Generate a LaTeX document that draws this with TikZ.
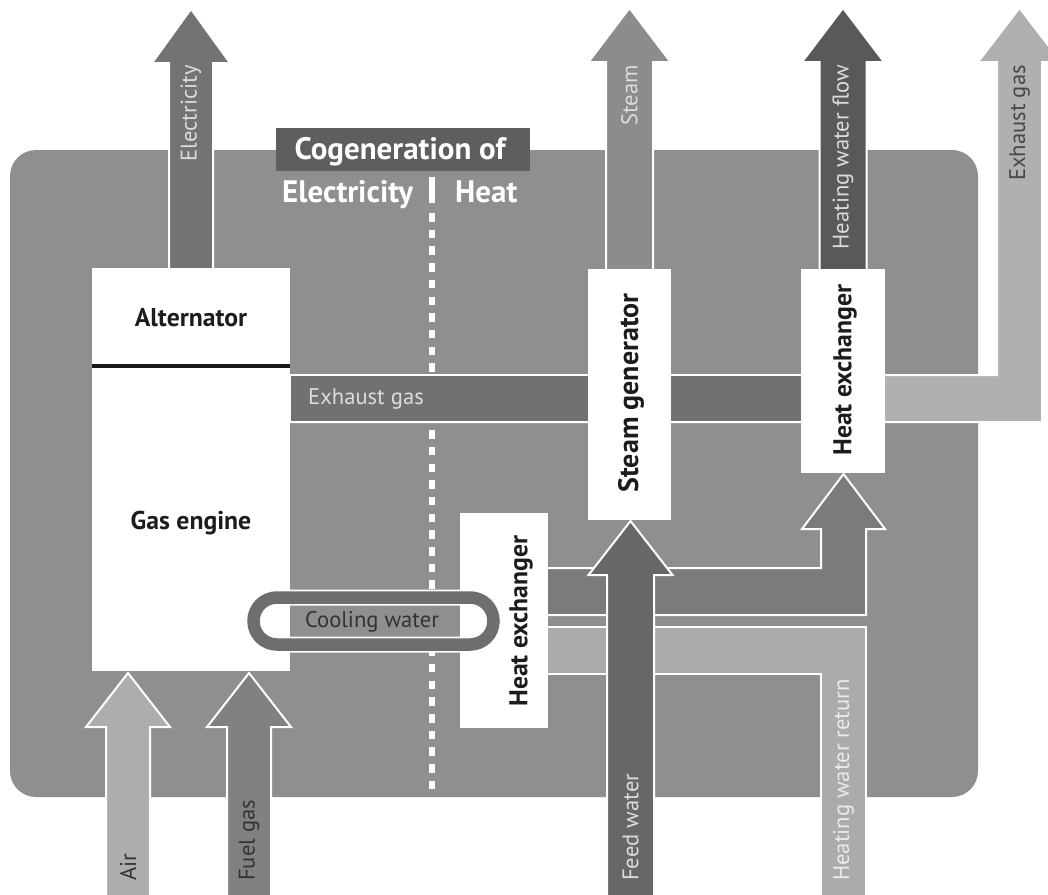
\documentclass[tikz,border=0pt]{standalone}
\usepackage{fontspec}
\setmainfont{PT Sans}
\definecolor{panel}{HTML}{8F8F8F}
\definecolor{elec}{HTML}{737373}
\definecolor{titlebg}{HTML}{5E5E5E}
\definecolor{steamc}{HTML}{8C8C8C}
\definecolor{hwflow}{HTML}{595959}
\definecolor{exlight}{HTML}{B0B0B0}
\definecolor{exdark}{HTML}{717171}
\definecolor{cool}{HTML}{6E6E6E}
\definecolor{hwflowlow}{HTML}{7B7B7B}
\definecolor{hwret}{HTML}{ABABAB}
\definecolor{feed}{HTML}{676767}
\definecolor{airc}{HTML}{ADADAD}
\definecolor{fuel}{HTML}{818181}
\definecolor{lbl}{HTML}{DCDCDC}
\definecolor{dk}{HTML}{333333}
\definecolor{boxtext}{HTML}{1C1C1C}
\tikzset{
  flow/.style={draw=white, line width=2pt},
  whitebox/.style={fill=white, draw=none, inner sep=0pt, anchor=north west},
  lab/.style={font=\fontsize{22.6}{22.6}\selectfont, inner sep=0pt},
  boxlab/.style={font=\fontsize{25.7}{25.7}\selectfont\bfseries, text=boxtext, inner sep=0pt},
  headlab/.style={font=\fontsize{31}{31}\selectfont\bfseries, text=white, inner sep=0pt},
}
\newcommand\upblock[6]{%
  \filldraw[flow,#6] ({#1-#4},#2) -- ({#1-#4},{#3+54}) -- ({#1-#5},{#3+54}) -- (#1,#3)
   -- ({#1+#5},{#3+54}) -- ({#1+#4},{#3+54}) -- ({#1+#4},#2) -- cycle;}
\begin{document}
\begin{tikzpicture}[x=1pt,y=-1pt]
\useasboundingbox (0,0) rectangle (1048,894);
% panel
\fill[panel, rounded corners=26pt] (10,150) rectangle (978,797);
% divider
\draw[white, line width=5.5pt] (432,177) -- (432,203);
\draw[white, line width=5.5pt, dash pattern=on 8.5pt off 8.2pt] (432,213) -- (432,797);
% exhaust gas
\filldraw[flow, fill=exlight] (290,375) -- (997,375) -- (997,62) -- (978,62) -- (1019.5,8)
  -- (1061,62) -- (1042,62) -- (1042,422) -- (290,422) -- cycle;
\fill[exdark] (291,376) rectangle (843,421);
% top arrows
\upblock{191}{275}{9}{22}{39}{fill=elec}
\upblock{629.5}{275}{8}{23.5}{41}{fill=steamc}
\upblock{843}{275}{8}{23.5}{41}{fill=hwflow}
% lower pipes
\filldraw[flow, fill=hwflowlow] (540,568) -- (821,568) -- (821,529) -- (802,529) -- (843.5,474)
  -- (885,529) -- (866,529) -- (866,615) -- (540,615) -- cycle;
\filldraw[flow, fill=hwret] (540,627) -- (866,627) -- (866,900) -- (821,900) -- (821,674) -- (540,674) -- cycle;
% bottom arrows
\upblock{630.5}{900}{521}{23.5}{42}{fill=feed}
\upblock{128}{900}{673}{22}{42}{fill=airc}
\upblock{249}{900}{673}{22}{42}{fill=fuel}
% boxes
\node[whitebox, minimum width=198pt, minimum height=403pt] (engine) at (92,268) {};
\node[whitebox, minimum width=83pt, minimum height=251pt] (steamgen) at (588,269) {};
\node[whitebox, minimum width=84pt, minimum height=204pt] (hxtop) at (801,269) {};
\node[whitebox, minimum width=88pt, minimum height=215pt] (hxlow) at (460,513) {};
\draw[black!90, line width=4.5pt] (engine.north west |- 0,366) -- (engine.north east |- 0,366);
% cooling water loop
\fill[panel] (290,604) rectangle (460,637);
\draw[white, line width=16pt, rounded corners=23.4pt] (253.5,597.5) rectangle (493.5,644.5);
\draw[cool, line width=12.5pt, rounded corners=23.4pt] (253.5,597.5) rectangle (493.5,644.5);
% box labels
\node[boxlab] (altl) at (191,318) {Alternator};
\node[boxlab] (engl) at (191,523) {Gas engine};
\node[boxlab, font=\fontsize{28}{28}\selectfont\bfseries, rotate=90] (sgl) at (631,393) {Steam generator};
\node[boxlab, rotate=90] (hxtl) at (845,370) {Heat exchanger};
\node[boxlab, rotate=90] (hxll) at (521,621) {Heat exchanger};
% flow labels
\node[lab, text=lbl, rotate=90, anchor=east] (el) at (191,65) {Electricity};
\node[lab, text=lbl, rotate=90, anchor=east] (stl) at (629.5,65) {Steam};
\node[lab, text=lbl, rotate=90, anchor=east] (hwfl) at (843,65) {Heating water flow};
\node[lab, text=dk!90, rotate=90, anchor=east] (exl) at (1019.5,65) {Exhaust gas};
\node[lab, text=lbl, anchor=west] (exb) at (308,398.5) {Exhaust gas};
\node[lab, text=dk] (cwl) at (372,622) {Cooling water};
\node[lab, text=dk, rotate=90, anchor=west] (airl) at (128,881) {Air};
\node[lab, text=dk, rotate=90, anchor=west] (fgl) at (249,881) {Fuel gas};
\node[lab, text=lbl, rotate=90, anchor=west] (fwl) at (630.5,881) {Feed water};
\node[lab, text=white!92!black, rotate=90, anchor=west] (hwrl) at (843.5,881) {Heating water return};
% title
\node[fill=titlebg, minimum width=254pt, minimum height=43pt, inner sep=0pt, anchor=north west] (titlebox) at (276,128) {};
\node[headlab, anchor=base] (title) at (400,159) {Cogeneration of};
\node[headlab, anchor=base west] (sube) at (282,202) {Electricity};
\node[headlab, anchor=base west] (subh) at (455,202) {Heat};
\end{tikzpicture}
\end{document}
